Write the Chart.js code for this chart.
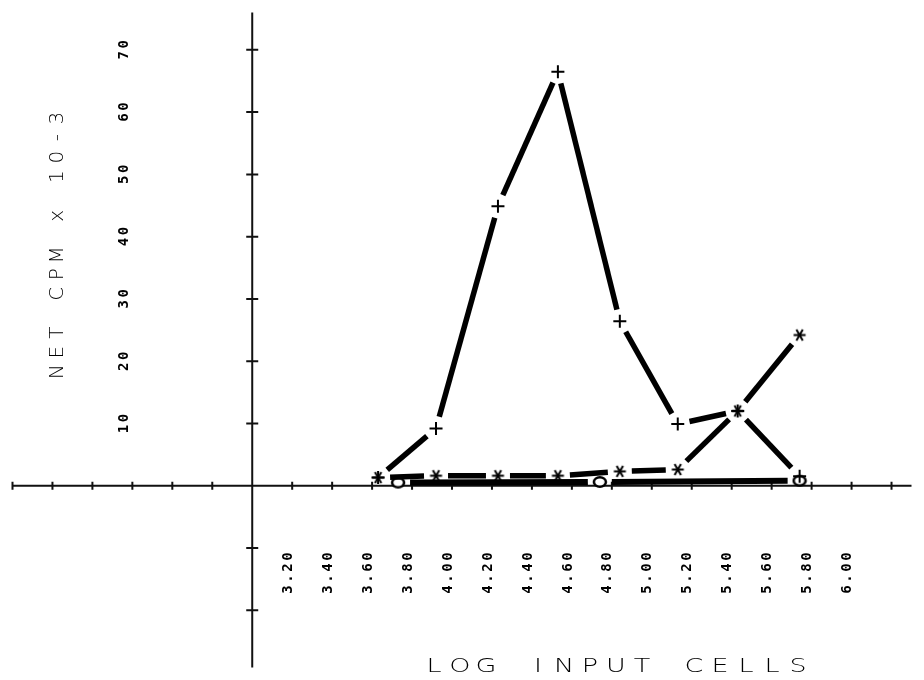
<!DOCTYPE html>
<html>
<head>
<meta charset="utf-8">
<script src="https://cdn.jsdelivr.net/npm/chart.js@4.4.1/dist/chart.umd.min.js"></script>
<style>
  html, body { margin: 0; padding: 0; background: #fff; }
  #wrap { width: 924px; height: 680px; }
</style>
</head>
<body>
<div id="wrap"><canvas id="plot"></canvas></div>
<script>
// two-fold dilution series (log input cells)
const logCells = [3.63, 3.92, 4.23, 4.53, 4.84, 5.13, 5.43, 5.74];
const plusCpm  = [1.3, 9.2, 44.9, 66.5, 26.4, 9.9, 12.0, 1.5];
const starCpm  = [1.3, 1.6, 1.6, 1.6, 2.3, 2.6, 12.0, 24.2];
// ten-fold series
const logCellsO = [3.73, 4.74, 5.74];
const circleCpm = [0.5, 0.6, 0.8];

// axis ticks and labels
const xTicks = [1.8, 2.0, 2.2, 2.4, 2.6, 2.8, 3.2, 3.4, 3.6, 3.8, 4.0, 4.2, 4.4, 4.6, 4.8, 5.0, 5.2, 5.4, 5.6, 5.8, 6.0, 6.2];
const xTickLabels = ['3.20', '3.40', '3.60', '3.80', '4.00', '4.20', '4.40', '4.60', '4.80', '5.00', '5.20', '5.40', '5.60', '5.80', '6.00'];
const yTicks = [-20, -10, 10, 20, 30, 40, 50, 60, 70];
const yTickLabels = ['10', '20', '30', '40', '50', '60', '70'];

const GAP = 12; // pen lifts before each symbol

function pts(xs, ys) { return xs.map((x, i) => ({ x: x, y: ys[i] })); }

// plotter asterisk
function makeStar() {
    const c = document.createElement('canvas');
    c.width = 15; c.height = 15;
    const g = c.getContext('2d');
    g.strokeStyle = '#000';
    g.lineWidth = 2;
    g.beginPath();
    g.moveTo(1.5, 7.5); g.lineTo(13.5, 7.5);
    g.moveTo(4.3, 2); g.lineTo(10.7, 13);
    g.moveTo(10.7, 2); g.lineTo(4.3, 13);
    g.stroke();
    return c;
}

// slightly flattened open circle
function makeRing() {
    const c = document.createElement('canvas');
    c.width = 16; c.height = 14;
    const g = c.getContext('2d');
    g.fillStyle = '#fff';
    g.strokeStyle = '#000';
    g.lineWidth = 2.5;
    g.beginPath();
    g.ellipse(8, 7, 6, 4.8, 0, 0, Math.PI * 2);
    g.fill();
    g.stroke();
    return c;
}

function gapDash(ctx) {
    const a = ctx.p0, b = ctx.p1;
    const L = Math.hypot(b.x - a.x, b.y - a.y);
    if (!isFinite(L)) return [];
    return [0, GAP, Math.max(L - 2 * GAP, 0.01), L + 50];
}

function spaced(ctx, str, cx, cy, adv) {
    const x0 = cx - adv * (str.length - 1) / 2;
    for (let i = 0; i < str.length; i++) ctx.fillText(str[i], x0 + i * adv, cy);
}

const plotterAxes = {
    id: 'plotterAxes',
    beforeDatasetsDraw(chart) {
        const ctx = chart.ctx;
        const xs = chart.scales.x, ys = chart.scales.y;
        const x0 = xs.getPixelForValue(3.0);
        const y0 = ys.getPixelForValue(0);
        ctx.save();
        ctx.strokeStyle = '#111';
        ctx.lineWidth = 2;
        ctx.beginPath();
        ctx.moveTo(xs.getPixelForValue(xs.min), y0);
        ctx.lineTo(xs.getPixelForValue(xs.max), y0);
        ctx.moveTo(x0, ys.getPixelForValue(ys.max));
        ctx.lineTo(x0, ys.getPixelForValue(ys.min));
        xTicks.forEach(v => {
            const px = xs.getPixelForValue(v);
            ctx.moveTo(px, y0 - 4); ctx.lineTo(px, y0 + 4);
        });
        yTicks.forEach(v => {
            const py = ys.getPixelForValue(v);
            ctx.moveTo(x0 - 6, py); ctx.lineTo(x0 + 6, py);
        });
        ctx.stroke();

        ctx.fillStyle = '#000';
        ctx.textAlign = 'center';
        ctx.textBaseline = 'middle';
        ctx.font = 'bold 14px "DejaVu Sans Mono"';
        xTickLabels.forEach(t => {
            const px = xs.getPixelForValue(parseFloat(t));
            ctx.save();
            ctx.translate(px - 4, 573);
            ctx.rotate(-Math.PI / 2);
            spaced(ctx, t, 0, 0, 11);
            ctx.restore();
        });
        yTickLabels.forEach(t => {
            const py = ys.getPixelForValue(parseFloat(t));
            ctx.save();
            ctx.translate(124, py);
            ctx.rotate(-Math.PI / 2);
            spaced(ctx, t, 0, 0, 11);
            ctx.restore();
        });

        // axis titles
        ctx.font = '200 20px "DejaVu Sans"';
        ctx.save();
        ctx.translate(58, 245);
        ctx.rotate(-Math.PI / 2);
        spaced(ctx, 'NET CPM x 10-3', 0, 0, 19.5);
        ctx.restore();

        ctx.save();
        ctx.translate(616, 667);
        ctx.scale(1.35, 1);
        spaced(ctx, 'LOG INPUT CELLS', 0, 0, 26 / 1.35);
        ctx.restore();
        ctx.restore();
    }
};

const lineBase = {
    borderColor: '#000',
    borderCapStyle: 'butt',
    pointBorderColor: '#000',
    tension: 0,
    segment: { borderDash: gapDash }
};

new Chart(document.getElementById('plot'), {
    type: 'line',
    data: {
        datasets: [
            Object.assign({}, lineBase, {
                label: 'star',
                data: pts(logCells, starCpm),
                borderWidth: 5.5,
                pointStyle: makeStar(),
                pointRadius: 7
            }),
            Object.assign({}, lineBase, {
                label: 'plus',
                data: pts(logCells, plusCpm),
                borderWidth: 5.5,
                pointStyle: 'cross',
                pointRadius: 6.5,
                pointBorderWidth: 2
            }),
            Object.assign({}, lineBase, {
                label: 'circle',
                data: pts(logCellsO, circleCpm),
                borderWidth: 6,
                pointStyle: makeRing(),
                pointRadius: 6
            })
        ]
    },
    options: {
        responsive: true,
        maintainAspectRatio: false,
        animation: false,
        layout: { padding: { left: 6, right: 2.25, top: 7, bottom: 0 } },
        plugins: { legend: { display: false }, tooltip: { enabled: false } },
        scales: {
            x: { type: 'linear', min: 1.8, max: 6.3, display: false },
            y: { type: 'linear', min: -29.2, max: 76, display: false }
        }
    },
    plugins: [plotterAxes]
});
</script>
</body>
</html>
